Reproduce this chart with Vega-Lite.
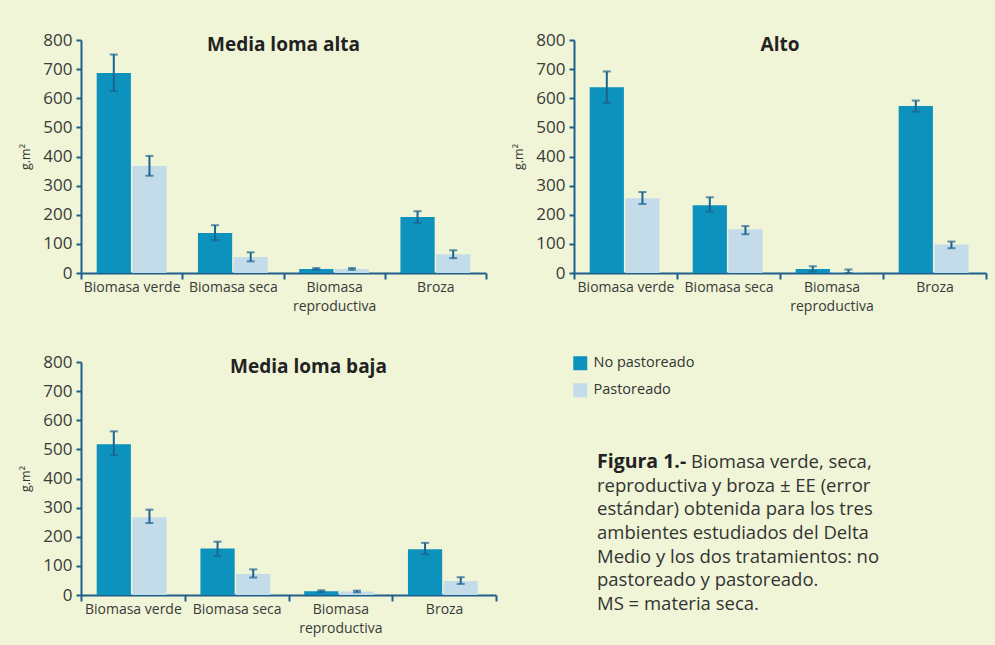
{
  "$schema": "https://vega.github.io/schema/vega-lite/v6.json",
  "background": "#eff5d6",
  "padding": {"left": 19, "top": 31, "right": 15, "bottom": 12},
  "config": {
    "font": "Open Sans",
    "view": {"stroke": null},
    "axis": {"labelFont": "Open Sans", "labelColor": "#3a3a3a", "domainColor": "#1f5f8b", "tickColor": "#1f5f8b", "domainWidth": 2, "tickWidth": 2, "grid": false},
    "axisY": {"labelFontSize": 17, "tickCount": 8, "labelOverlap": false, "tickSize": 5, "labelPadding": 4, "titleFont": "Open Sans", "titleFontSize": 12.5, "titleFontWeight": "normal", "titleColor": "#333333", "titlePadding": 10},
    "axisX": {"labelFontSize": 14, "labelAngle": 0, "tickBand": "extent", "tickSize": 6, "labelPadding": 1, "labelLineHeight": 19, "title": null},
    "title": {"font": "Open Sans", "fontSize": 19, "fontWeight": "bold", "color": "#222222", "anchor": "middle"},
    "legend": {"orient": "none", "legendX": 492, "legendY": 316, "title": null, "symbolType": "square", "symbolSize": 196, "symbolStrokeWidth": 0, "labelFont": "Open Sans", "labelFontSize": 14.5, "labelColor": "#333333", "rowPadding": 11, "labelOffset": 6}
  },
  "datasets": {
    "bars": [
      {"panel": "Media loma alta", "cat": "Biomasa verde", "trat": "No pastoreado", "v": 687, "lo": 625, "hi": 750},
      {"panel": "Media loma alta", "cat": "Biomasa verde", "trat": "Pastoreado", "v": 367, "lo": 334, "hi": 402},
      {"panel": "Media loma alta", "cat": "Biomasa seca", "trat": "No pastoreado", "v": 137, "lo": 112, "hi": 164},
      {"panel": "Media loma alta", "cat": "Biomasa seca", "trat": "Pastoreado", "v": 55, "lo": 40, "hi": 71},
      {"panel": "Media loma alta", "cat": "Biomasa reproductiva", "trat": "No pastoreado", "v": 14, "lo": 11, "hi": 17},
      {"panel": "Media loma alta", "cat": "Biomasa reproductiva", "trat": "Pastoreado", "v": 14, "lo": 11, "hi": 17},
      {"panel": "Media loma alta", "cat": "Broza", "trat": "No pastoreado", "v": 192, "lo": 171, "hi": 212},
      {"panel": "Media loma alta", "cat": "Broza", "trat": "Pastoreado", "v": 64, "lo": 51, "hi": 78},
      {"panel": "Alto", "cat": "Biomasa verde", "trat": "No pastoreado", "v": 638, "lo": 584, "hi": 692},
      {"panel": "Alto", "cat": "Biomasa verde", "trat": "Pastoreado", "v": 257, "lo": 237, "hi": 278},
      {"panel": "Alto", "cat": "Biomasa seca", "trat": "No pastoreado", "v": 233, "lo": 211, "hi": 260},
      {"panel": "Alto", "cat": "Biomasa seca", "trat": "Pastoreado", "v": 150, "lo": 133, "hi": 161},
      {"panel": "Alto", "cat": "Biomasa reproductiva", "trat": "No pastoreado", "v": 14, "lo": 5, "hi": 23},
      {"panel": "Alto", "cat": "Biomasa reproductiva", "trat": "Pastoreado", "v": 1, "lo": 0, "hi": 12},
      {"panel": "Alto", "cat": "Broza", "trat": "No pastoreado", "v": 573, "lo": 554, "hi": 592},
      {"panel": "Alto", "cat": "Broza", "trat": "Pastoreado", "v": 98, "lo": 85, "hi": 108},
      {"panel": "Media loma baja", "cat": "Biomasa verde", "trat": "No pastoreado", "v": 518, "lo": 480, "hi": 562},
      {"panel": "Media loma baja", "cat": "Biomasa verde", "trat": "Pastoreado", "v": 267, "lo": 247, "hi": 293},
      {"panel": "Media loma baja", "cat": "Biomasa seca", "trat": "No pastoreado", "v": 160, "lo": 134, "hi": 183},
      {"panel": "Media loma baja", "cat": "Biomasa seca", "trat": "Pastoreado", "v": 72, "lo": 60, "hi": 88},
      {"panel": "Media loma baja", "cat": "Biomasa reproductiva", "trat": "No pastoreado", "v": 13, "lo": 10, "hi": 16},
      {"panel": "Media loma baja", "cat": "Biomasa reproductiva", "trat": "Pastoreado", "v": 12, "lo": 9, "hi": 15},
      {"panel": "Media loma baja", "cat": "Broza", "trat": "No pastoreado", "v": 157, "lo": 140, "hi": 179},
      {"panel": "Media loma baja", "cat": "Broza", "trat": "Pastoreado", "v": 48, "lo": 38, "hi": 61}
    ],
    "caption": [
      {"line": 1, "part": "head", "text": "Figura 1.-"},
      {"line": 1, "part": "first", "text": "Biomasa verde, seca,"},
      {"line": 2, "part": "body", "text": "reproductiva y broza ± EE (error"},
      {"line": 3, "part": "body", "text": "estándar) obtenida para los tres"},
      {"line": 4, "part": "body", "text": "ambientes estudiados del Delta"},
      {"line": 5, "part": "body", "text": "Medio y los dos tratamientos: no"},
      {"line": 6, "part": "body", "text": "pastoreado y pastoreado."},
      {"line": 7, "part": "body", "text": "MS = materia seca."}
    ]
  },
  "vconcat": [
    {
      "hconcat": [
        {
          "title": {"text": "Media loma alta", "offset": -24},
          "width": 405, "height": 233,
          "data": {"name": "bars"},
          "transform": [{"filter": "datum.panel == 'Media loma alta'"}],
          "encoding": {
            "x": {"field": "cat", "type": "nominal", "sort": ["Biomasa verde", "Biomasa seca", "Biomasa reproductiva", "Broza"], "scale": {"paddingInner": 0, "paddingOuter": 0},
              "axis": {"labelExpr": "datum.label == 'Biomasa reproductiva' ? ['Biomasa', 'reproductiva'] : datum.label"}},
            "xOffset": {"field": "trat", "type": "nominal", "sort": ["No pastoreado", "Pastoreado"], "scale": {"paddingInner": 0.04, "paddingOuter": 0.44}}
          },
          "layer": [
            {"mark": {"type": "bar"},
             "encoding": {
               "y": {"field": "v", "type": "quantitative", "scale": {"domain": [0, 800]}, "title": "g.m²"},
               "color": {"field": "trat", "type": "nominal", "scale": {"domain": ["No pastoreado", "Pastoreado"], "range": ["#0d91bd", "#c4dcea"]}}
             }},
            {"mark": {"type": "rule", "color": "#1c6490", "strokeWidth": 2},
             "encoding": {"y": {"field": "lo", "type": "quantitative"}, "y2": {"field": "hi"}}},
            {"mark": {"type": "tick", "color": "#1c6490", "thickness": 2, "size": 8},
             "encoding": {"y": {"field": "lo", "type": "quantitative"}}},
            {"mark": {"type": "tick", "color": "#1c6490", "thickness": 2, "size": 8},
             "encoding": {"y": {"field": "hi", "type": "quantitative"}}}
          ]
        },
        {
          "title": {"text": "Alto", "offset": -24},
          "width": 412, "height": 233,
          "data": {"name": "bars"},
          "transform": [{"filter": "datum.panel == 'Alto'"}],
          "encoding": {
            "x": {"field": "cat", "type": "nominal", "sort": ["Biomasa verde", "Biomasa seca", "Biomasa reproductiva", "Broza"], "scale": {"paddingInner": 0, "paddingOuter": 0},
              "axis": {"labelExpr": "datum.label == 'Biomasa reproductiva' ? ['Biomasa', 'reproductiva'] : datum.label"}},
            "xOffset": {"field": "trat", "type": "nominal", "sort": ["No pastoreado", "Pastoreado"], "scale": {"paddingInner": 0.04, "paddingOuter": 0.46}}
          },
          "layer": [
            {"mark": {"type": "bar"},
             "encoding": {
               "y": {"field": "v", "type": "quantitative", "scale": {"domain": [0, 800]}, "title": "g.m²"},
               "color": {"field": "trat", "type": "nominal", "scale": {"domain": ["No pastoreado", "Pastoreado"], "range": ["#0d91bd", "#c4dcea"]}}
             }},
            {"mark": {"type": "rule", "color": "#1c6490", "strokeWidth": 2},
             "encoding": {"y": {"field": "lo", "type": "quantitative"}, "y2": {"field": "hi"}}},
            {"mark": {"type": "tick", "color": "#1c6490", "thickness": 2, "size": 8},
             "encoding": {"y": {"field": "lo", "type": "quantitative"}}},
            {"mark": {"type": "tick", "color": "#1c6490", "thickness": 2, "size": 8},
             "encoding": {"y": {"field": "hi", "type": "quantitative"}}}
          ]
        }
      ],
      "spacing": 25
    },
    {
      "hconcat": [
        {
          "title": {"text": "Media loma baja", "offset": -24, "dx": 20},
          "width": 415, "height": 233,
          "data": {"name": "bars"},
          "transform": [{"filter": "datum.panel == 'Media loma baja'"}],
          "encoding": {
            "x": {"field": "cat", "type": "nominal", "sort": ["Biomasa verde", "Biomasa seca", "Biomasa reproductiva", "Broza"], "scale": {"paddingInner": 0, "paddingOuter": 0},
              "axis": {"labelExpr": "datum.label == 'Biomasa reproductiva' ? ['Biomasa', 'reproductiva'] : datum.label"}},
            "xOffset": {"field": "trat", "type": "nominal", "sort": ["No pastoreado", "Pastoreado"], "scale": {"paddingInner": 0.04, "paddingOuter": 0.48}}
          },
          "layer": [
            {"mark": {"type": "bar"},
             "encoding": {
               "y": {"field": "v", "type": "quantitative", "scale": {"domain": [0, 800]}, "title": "g.m²"},
               "color": {"field": "trat", "type": "nominal", "scale": {"domain": ["No pastoreado", "Pastoreado"], "range": ["#0d91bd", "#c4dcea"]}}
             }},
            {"mark": {"type": "rule", "color": "#1c6490", "strokeWidth": 2},
             "encoding": {"y": {"field": "lo", "type": "quantitative"}, "y2": {"field": "hi"}}},
            {"mark": {"type": "tick", "color": "#1c6490", "thickness": 2, "size": 8},
             "encoding": {"y": {"field": "lo", "type": "quantitative"}}},
            {"mark": {"type": "tick", "color": "#1c6490", "thickness": 2, "size": 8},
             "encoding": {"y": {"field": "hi", "type": "quantitative"}}}
          ]
        },
        {
          "width": 390, "height": 233,
          "data": {"name": "caption"},
          "encoding": {
            "y": {"field": "line", "type": "ordinal", "axis": null, "scale": {"type": "point", "range": [100, 242], "padding": 0}}
          },
          "layer": [
            {"transform": [{"filter": "datum.part == 'head'"}],
             "mark": {"type": "text", "align": "left", "baseline": "middle", "font": "Open Sans", "fontSize": 19.5, "fontWeight": "bold", "color": "#222222"},
             "encoding": {"x": {"value": 0}, "text": {"field": "text"}}},
            {"transform": [{"filter": "datum.part == 'first'"}],
             "mark": {"type": "text", "align": "left", "baseline": "middle", "font": "Open Sans", "fontSize": 18.5, "color": "#333333", "dx": 94},
             "encoding": {"x": {"value": 0}, "text": {"field": "text"}}},
            {"transform": [{"filter": "datum.part == 'body'"}],
             "mark": {"type": "text", "align": "left", "baseline": "middle", "font": "Open Sans", "fontSize": 18.5, "color": "#333333"},
             "encoding": {"x": {"value": 0}, "text": {"field": "text"}}}
          ]
        }
      ],
      "spacing": 100
    }
  ],
  "spacing": 40
}
